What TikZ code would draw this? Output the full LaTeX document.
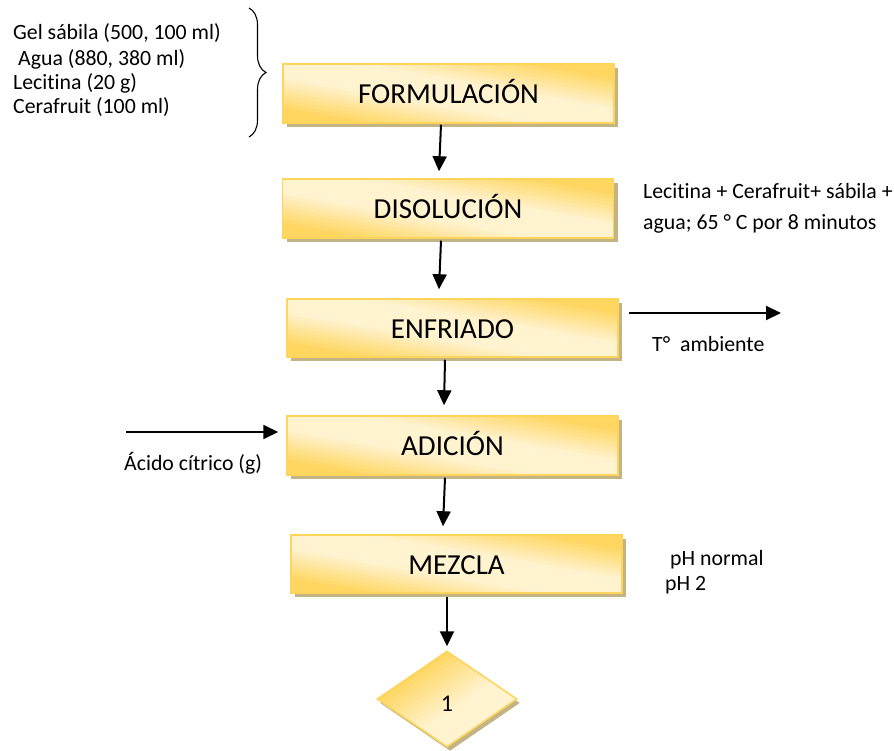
\documentclass[tikz,border=0pt]{standalone}
\usepackage{fontspec}
\setmainfont{Carlito}[Ligatures=NoCommon]
\usetikzlibrary{arrows.meta,shapes.geometric,shadows,decorations.pathreplacing,calc}

\definecolor{gold}{RGB}{255,214,96}
\definecolor{cream}{RGB}{255,243,208}
\definecolor{edgegold}{RGB}{255,212,90}
\definecolor{shadowtan}{RGB}{196,180,132}

\tikzset{
  % cream along the top-left/bottom-right diagonal, gold towards the other corners
  boxsheen/.style={path picture={
    \coordinate (pc) at (path picture bounding box.center);
    \coordinate (pne) at (path picture bounding box.north east);
    \coordinate (pse) at (path picture bounding box.south east);
    \foreach \i in {-16,...,15}{
      \pgfmathsetmacro\sa{\i/15}
      \pgfmathsetmacro\sb{(\i+1.2)/15}
      \pgfmathtruncatemacro\mx{max(0,min(100,(abs((\i+0.5)/15)-0.22)*180))}
      \fill[gold!\mx!cream]
        ($(pc)!\sa!(pne)+1.1*(pse)-1.1*(pc)$) -- ($(pc)!\sb!(pne)+1.1*(pse)-1.1*(pc)$) --
        ($(pc)!\sb!(pne)-1.1*(pse)+1.1*(pc)$) -- ($(pc)!\sa!(pne)-1.1*(pse)+1.1*(pc)$) -- cycle;
    }}},
  % gold at the upper left, fading to cream at the lower right
  diamondsheen/.style={path picture={
    \coordinate (pc) at (path picture bounding box.center);
    \coordinate (pne) at (path picture bounding box.north east);
    \coordinate (pse) at (path picture bounding box.south east);
    \foreach \i in {-16,...,15}{
      \pgfmathsetmacro\qa{\i/15}
      \pgfmathsetmacro\qb{(\i+1.2)/15}
      \pgfmathtruncatemacro\mx{max(0,min(100,25-(\i+0.5)/15*150))}
      \fill[gold!\mx!cream]
        ($(pc)!\qa!(pse)+1.1*(pne)-1.1*(pc)$) -- ($(pc)!\qb!(pse)+1.1*(pne)-1.1*(pc)$) --
        ($(pc)!\qb!(pse)-1.1*(pne)+1.1*(pc)$) -- ($(pc)!\qa!(pse)-1.1*(pne)+1.1*(pc)$) -- cycle;
    }}},
}

\begin{document}
\begin{tikzpicture}[x=1pt,y=-1pt,
  stepbox/.style={rectangle, draw=edgegold, line width=1.5pt,
    minimum width=331pt, minimum height=59pt, inner sep=0pt, boxsheen,
    drop shadow={shadow xshift=4pt, shadow yshift=-4pt, fill=shadowtan, opacity=1},
    font=\fontsize{29}{34}\selectfont, text height=20.2pt, text depth=0pt},
  decision/.style={diamond, draw=edgegold, line width=1.5pt, aspect=1.46,
    minimum width=140pt, minimum height=96pt, inner sep=0pt, diamondsheen,
    drop shadow={shadow xshift=3pt, shadow yshift=-4pt, fill=shadowtan, opacity=1},
    font=\fontsize{24}{28}\selectfont, text height=25.4pt, text depth=0pt},
  lbl/.style={font=\fontsize{21.8}{25}\selectfont, inner sep=0pt, anchor=base west},
  arr/.style={line width=2pt, -{Triangle[length=15pt,width=14pt]}}]

\useasboundingbox (0,0) rectangle (894,751);

% process steps
\node[stepbox] (f) at (448.5,93.5) {FORMULACIÓN};
\node[stepbox] (d) at (448,208.5) {DISOLUCIÓN};
\node[stepbox, minimum height=58pt] (e) at (452.5,328) {ENFRIADO};
\node[stepbox] (a) at (452.5,445.5) {ADICIÓN};
\node[stepbox, minimum height=58pt] (m) at (456.5,564) {MEZCLA};
\node[decision] (one) at (447,699) {1};

% flow between steps
\draw[arr] ([xshift=-7.5pt,yshift=-1pt]f.south) -- ([xshift=-9pt,yshift=7pt]d.north);
\draw[arr] ([xshift=-7pt,yshift=-2pt]d.south) -- ([xshift=-13.5pt,yshift=9pt]e.north);
\draw[arr] ([xshift=-7.5pt,yshift=-2pt]e.south) -- ([xshift=-8.5pt,yshift=10pt]a.north);
\draw[arr] ([xshift=-7.5pt,yshift=-2pt]a.south) -- ([xshift=-13.5pt,yshift=8pt]m.north);
\draw[arr] ([xshift=-9.5pt,yshift=-3pt]m.south) -- ([yshift=4pt]one.north);

% side streams
\coordinate (tout) at (781,313);
\coordinate (acin) at (126,432);
\draw[arr] ([xshift=10pt,yshift=15pt]e.east) -- (tout);
\draw[arr] (acin) -- ([xshift=-8pt,yshift=13.5pt]a.west);

% ingredients and brace
\coordinate (btop) at (249,8);
\coordinate (bbot) at (249,137);
\draw[decorate, decoration={brace, amplitude=17pt}, line width=1.1pt] (btop) -- (bbot);
\node[lbl] (t1) at (13,40) {Gel sábila (500, 100 ml)};
\node[lbl] (t2) at (18,65.5) {Agua (880, 380 ml)};
\node[lbl] (t3) at (13,90) {Lecitina (20 g)};
\node[lbl] (t4) at (13,114) {Cerafruit (100 ml)};

% annotations
\node[lbl] (c1) at (643,199) {Lecitina + Cerafruit+ sábila +};
\begin{scope}
  \clip (600,180) rectangle (894,233);
  \node[lbl] (c2) at (643,229.3) {agua; 65 ° C por 8 minutos};
\end{scope}
\node[lbl] (ta) at (652,351.7) {T°\ \ ambiente};
\node[lbl] (ac) at (124,470) {Ácido cítrico (g)};
\node[lbl] (p1) at (670,565.7) {pH normal};
\node[lbl] (p2) at (665,590.7) {pH 2};
\end{tikzpicture}
\end{document}
